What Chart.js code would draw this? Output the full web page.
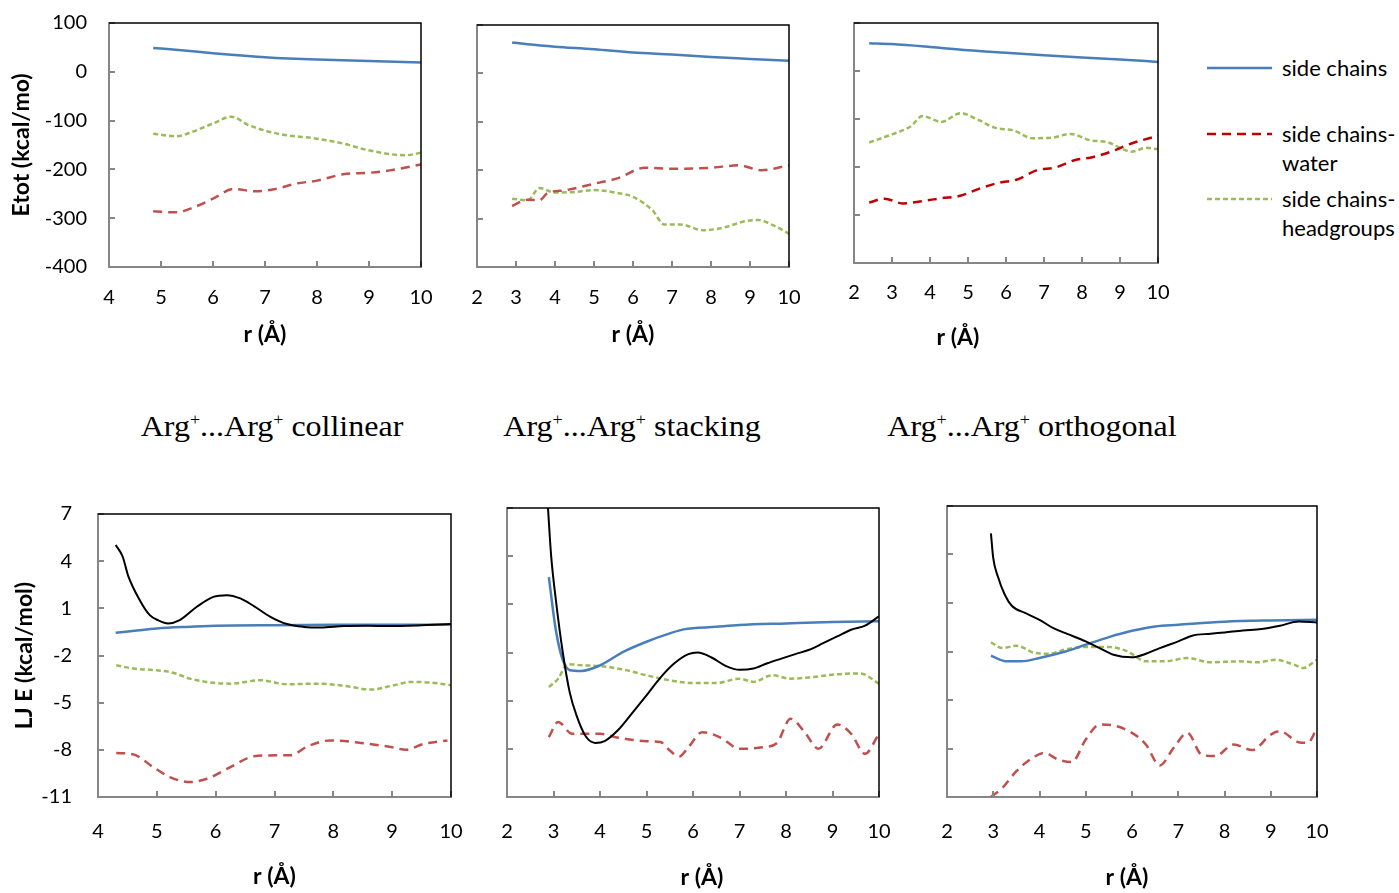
<!DOCTYPE html>
<html>
<head>
<meta charset="utf-8">
<script src="https://cdn.jsdelivr.net/npm/chart.js@4.4.1/dist/chart.umd.min.js"></script>
<style>
body { margin: 0; background: #fff; }
#page { position: relative; width: 1399px; height: 893px; overflow: hidden; background: #fff; }
canvas { position: absolute; }
.ttl { position: absolute; top: 406px; font-family: 'Liberation Serif', 'Times New Roman', serif; font-size: 32px; line-height: 40px; transform: translateX(-50%) scaleY(0.92); white-space: nowrap; color: #000; }
.ttl sup { font-size: 18px; line-height: 0; vertical-align: 12px; }
.leg { position: absolute; left: 1282px; font-family: Lato, 'Open Sans', sans-serif; font-size: 22px; line-height: 29px; color: #000; }
</style>
</head>
<body>
<div id="page">
  <div class="ttl" style="left:272px">Arg<sup>+</sup>...Arg<sup>+</sup> collinear</div>
  <div class="ttl" style="left:632px">Arg<sup>+</sup>...Arg<sup>+</sup> stacking</div>
  <div class="ttl" style="left:1032px">Arg<sup>+</sup>...Arg<sup>+</sup> orthogonal</div>

  <svg style="position:absolute;left:1200px;top:50px" width="80" height="170">
    <line x1="7" y1="18" x2="72" y2="18" stroke="#4A7EBB" stroke-width="2.5"/>
    <line x1="7" y1="84" x2="72" y2="84" stroke="#C00000" stroke-width="2.5" stroke-dasharray="9,6"/>
    <line x1="7" y1="149" x2="72" y2="149" stroke="#9BBB59" stroke-width="2.5" stroke-dasharray="5,3"/>
  </svg>
  <div class="leg" style="top:53px">side chains</div>
  <div class="leg" style="top:119px">side chains-<br>water</div>
  <div class="leg" style="top:184px">side chains-<br>headgroups</div>
</div>
<script>
// r (Å) / energy readings, one pair per curve

// Etot, collinear
const colScR  = [4.85, 5.5, 6, 7, 8, 9, 10];
const colScE  = [49, 43, 38, 30, 25, 22, 19];
const colScwR = [4.85, 5.3, 5.6, 6, 6.4, 6.8, 7.2, 7.6, 8, 8.5, 9, 9.4, 10];
const colScwE = [-286, -288, -279, -260, -240, -245, -240, -229, -223, -210, -207, -202, -190];
const colHgR  = [4.85, 5.3, 5.6, 6, 6.35, 6.7, 7.3, 8, 8.5, 9, 9.7, 10];
const colHgE  = [-127, -132, -123, -106, -92, -110, -128, -137, -147, -161, -171, -166];

// Etot, stacking
const stkScR  = [2.9, 3.3, 4, 5, 6, 7, 8, 9, 10];
const stkScE  = [64, 60, 55, 50, 43, 39, 34, 30, 26];
const stkScwR = [2.9, 3.3, 3.6, 3.8, 4.3, 5, 5.6, 6.3, 7, 8, 8.7, 9.3, 10];
const stkScwE = [-274, -261, -262, -248, -241, -228, -217, -195, -197, -195, -190, -200, -190];
const stkHgR  = [2.9, 3.3, 3.6, 4, 4.5, 5, 5.6, 6, 6.5, 6.8, 7.2, 7.8, 8.3, 8.9, 9.2, 9.6, 10];
const stkHgE  = [-259, -262, -237, -246, -245, -241, -247, -255, -283, -312, -312, -324, -319, -305, -303, -314, -331];

// Etot, orthogonal
const ortScR  = [2.4, 3, 4, 5, 6, 7, 8, 9, 10];
const ortScE  = [58, 56, 50, 43, 38, 33, 28, 24, 19];
const ortScwR = [2.4, 2.8, 3.3, 3.8, 4.3, 4.8, 5.3, 5.8, 6.3, 6.8, 7.3, 7.8, 8.3, 8.8, 9.3, 10];
const ortScwE = [-274, -266, -276, -271, -265, -260, -245, -233, -226, -207, -201, -186, -179, -167, -151, -135];
const ortHgR  = [2.4, 3, 3.5, 3.8, 4.3, 4.8, 5.3, 5.7, 6.2, 6.7, 7.2, 7.7, 8.2, 8.7, 9, 9.3, 9.7, 10];
const ortHgE  = [-149, -132, -115, -94, -106, -88, -103, -118, -124, -140, -139, -131, -144, -149, -160, -168, -160, -163];

// LJ E, collinear
const colTotR  = [4.3, 4.42, 4.51, 4.71, 4.88, 5.02, 5.19, 5.39, 5.68, 5.96, 6.19, 6.42, 6.65, 6.93, 7.21, 7.5, 7.78, 8.18, 8.58, 8.92, 9.43, 10];
const colTotE  = [5.03, 4.28, 3.1, 1.52, 0.57, 0.25, 0.04, 0.25, 1.1, 1.73, 1.84, 1.63, 1.14, 0.46, 0, -0.18, -0.22, -0.13, -0.11, -0.13, -0.09, 0];
const colLjScR = [4.3, 4.7, 5, 5.5, 6, 7, 8, 9, 10];
const colLjScE = [-0.56, -0.39, -0.28, -0.18, -0.11, -0.07, -0.05, -0.05, -0.03];
const colLjHgR = [4.31, 4.6, 5, 5.28, 5.56, 5.96, 6.25, 6.76, 7.21, 7.73, 8.24, 8.64, 9.03, 9.32, 9.66, 10];
const colLjHgE = [-2.62, -2.83, -2.94, -3.1, -3.47, -3.74, -3.79, -3.57, -3.83, -3.79, -3.96, -4.17, -3.89, -3.68, -3.72, -3.89];
const colLjWR  = [4.31, 4.6, 4.94, 5.22, 5.56, 5.85, 6.25, 6.65, 7.04, 7.27, 7.56, 7.95, 8.47, 8.98, 9.23, 9.55, 9.94];
const colLjWE  = [-8.2, -8.29, -9.1, -9.73, -10.05, -9.84, -9.1, -8.41, -8.35, -8.35, -7.78, -7.4, -7.56, -7.82, -7.99, -7.61, -7.4];

// LJ E, stacking
const stkTotR  = [2.86, 2.95, 3.05, 3.2, 3.35, 3.5, 3.7, 3.9, 4.1, 4.4, 4.7, 5, 5.3, 5.6, 5.9, 6.1, 6.4, 6.7, 7, 7.3, 7.6, 7.9, 8.2, 8.5, 8.8, 9.1, 9.4, 9.7, 10];
const stkTotE  = [8, 4, 1.3, -2, -4.5, -5.96, -7.25, -7.63, -7.52, -6.8, -5.75, -4.67, -3.56, -2.67, -2.1, -2, -2.31, -2.83, -3.08, -3, -2.67, -2.38, -2.1, -1.83, -1.42, -1, -0.58, -0.33, 0.25];
const stkLjScR = [2.9, 3.05, 3.2, 3.35, 3.6, 4, 4.5, 5, 5.5, 5.8, 6.5, 7, 8, 9, 10];
const stkLjScE = [2.69, -0.6, -2.48, -3.1, -3.15, -2.8, -1.96, -1.33, -0.81, -0.56, -0.4, -0.29, -0.19, -0.1, -0.06];
const stkLjHgR = [2.9, 3.1, 3.3, 3.6, 4, 4.5, 5, 5.5, 6, 6.5, 7, 7.3, 7.7, 8.1, 8.6, 9.1, 9.6, 10];
const stkLjHgE = [-4.15, -3.63, -2.73, -2.79, -2.85, -3.06, -3.42, -3.73, -3.9, -3.9, -3.63, -3.83, -3.42, -3.63, -3.52, -3.35, -3.31, -3.94];
const stkLjWR  = [2.9, 3.1, 3.4, 4, 4.4, 5, 5.3, 5.5, 5.7, 5.9, 6.2, 6.6, 7, 7.5, 7.8, 8.1, 8.4, 8.7, 9.1, 9.4, 9.7, 10];
const stkLjWE  = [-7.27, -6.33, -7.06, -7.06, -7.31, -7.52, -7.58, -8.1, -8.48, -7.9, -6.96, -7.31, -8, -7.9, -7.65, -6.13, -6.96, -8, -6.48, -7.06, -8.31, -7.06];

// LJ E, orthogonal
const ortTotR  = [2.95, 3, 3.1, 3.25, 3.4, 3.7, 4, 4.3, 4.6, 5, 5.3, 5.6, 6, 6.3, 6.6, 7, 7.3, 7.7, 8, 8.4, 8.8, 9.2, 9.6, 10];
const ortTotE  = [5.31, 3.77, 2.64, 1.51, 0.83, 0.37, -0.04, -0.56, -0.91, -1.37, -1.79, -2.2, -2.36, -2.14, -1.79, -1.37, -1.02, -0.9, -0.82, -0.7, -0.61, -0.41, -0.14, -0.2];
const ortLjScR = [2.95, 3.3, 3.6, 4, 4.5, 5, 5.5, 6, 6.5, 7, 8, 9, 10];
const ortLjScE = [-2.26, -2.61, -2.61, -2.4, -2.05, -1.58, -1.11, -0.72, -0.45, -0.35, -0.16, -0.08, -0.04];
const ortLjHgR = [2.95, 3.2, 3.5, 3.9, 4.2, 4.6, 5, 5.5, 5.9, 6.3, 6.7, 7.2, 7.7, 8.3, 8.7, 9.1, 9.5, 9.7, 10];
const ortLjHgE = [-1.44, -1.79, -1.64, -2.09, -2.14, -1.85, -1.72, -1.72, -1.99, -2.61, -2.61, -2.4, -2.67, -2.61, -2.67, -2.51, -2.81, -3.02, -2.51];
const ortLjWR  = [2.95, 3.2, 3.5, 3.8, 4.1, 4.4, 4.7, 5, 5.3, 5.6, 6, 6.3, 6.6, 6.9, 7.2, 7.5, 7.8, 8.2, 8.6, 9, 9.2, 9.6, 9.8, 10];
const ortLjWE  = [-11, -10.43, -9.4, -8.68, -8.27, -8.68, -8.84, -7.44, -6.52, -6.58, -7.03, -7.75, -9.05, -7.96, -7.03, -8.37, -8.47, -7.75, -8.1, -7.14, -6.93, -7.61, -7.65, -6.72];

const BLUE = '#4A7EBB', RED = '#C0504D', DARKRED = '#C00000', GREEN = '#9BBB59', AXIS = '#868686';
const tickFont = { family: 'Lato', size: 20 };
const titleFont = { family: 'Lato', size: 23, weight: 'bold' };

function pts(r, e) { return r.map((v, i) => ({ x: v, y: e[i] })); }

// curve styles
const total = (r, e) => ({ data: pts(r, e), borderColor: '#000', borderWidth: 2 });
const sc    = (r, e) => ({ data: pts(r, e), borderColor: BLUE, borderWidth: 2.5 });
const scw   = (r, e, c) => ({ data: pts(r, e), borderColor: c || RED, borderWidth: 2.5, borderDash: [9, 6] });
const schg  = (r, e) => ({ data: pts(r, e), borderColor: GREEN, borderWidth: 2.5, borderDash: [5, 3] });

// inner tick marks, black top/right frame, and the r (Å) title (not always centred in the original)
const frame = {
  id: 'frame',
  afterDatasetsDraw(chart, args, opts) {
    const { ctx, chartArea: a, scales: { x, y } } = chart;
    ctx.save();
    ctx.strokeStyle = AXIS;
    ctx.lineWidth = 2;
    ctx.beginPath();
    x.ticks.forEach(t => {
      const px = Math.round(x.getPixelForValue(t.value));
      ctx.moveTo(px, a.bottom); ctx.lineTo(px, a.bottom - 6);
    });
    y.ticks.forEach(t => {
      const py = Math.round(y.getPixelForValue(t.value));
      ctx.moveTo(a.left, py); ctx.lineTo(a.left + 6, py);
    });
    ctx.stroke();
    ctx.strokeStyle = '#000';
    ctx.lineWidth = 1.5;
    ctx.beginPath();
    ctx.moveTo(a.left, a.top); ctx.lineTo(a.right, a.top); ctx.lineTo(a.right, a.bottom);
    ctx.stroke();

    ctx.font = 'bold 23px Lato';
    ctx.fillStyle = '#000';
    ctx.textAlign = 'center';
    ctx.textBaseline = 'middle';
    ctx.fillText('r (Å)', (a.left + a.right) / 2 + opts.dx, a.bottom + opts.dy);
    ctx.restore();
  }
};

function panel(p, datasets) {
  // the scales add their tick padding to the edge room they ask for
  const pt = p.yTitle ? p.yPad + 12 : 12;
  const pr = p.xPad + 12;
  const yw = p.yTitle ? p.yw : p.xPad + 6;
  const w = (p.R - p.L) + yw + pr;
  const h = (p.B - p.T) + pt + p.xh;
  const cv = document.createElement('canvas');
  cv.width = w; cv.height = h;
  cv.style.left = (p.L - yw) + 'px';
  cv.style.top = (p.T - pt) + 'px';
  cv.style.width = w + 'px'; cv.style.height = h + 'px';
  document.getElementById('page').appendChild(cv);

  datasets.forEach(d => { d.pointRadius = 0; d.fill = false; d.cubicInterpolationMode = 'monotone'; });

  new Chart(cv, {
    type: 'line',
    data: { datasets: datasets },
    options: {
      responsive: false,
      animation: false,
      devicePixelRatio: 1,
      events: [],
      layout: { padding: { top: pt, right: pr, left: 0, bottom: 0 } },
      plugins: {
        legend: { display: false },
        tooltip: { enabled: false },
        frame: { dx: p.titleDx || 0, dy: p.titleDy }
      },
      scales: {
        x: {
          type: 'linear', min: p.xMin, max: 10,
          afterFit: s => { s.height = p.xh; },
          grid: { display: false, drawTicks: false },
          border: { color: AXIS, width: 2 },
          ticks: { stepSize: 1, color: '#000', font: tickFont, padding: p.xPad, maxRotation: 0, autoSkip: false }
        },
        y: {
          type: 'linear', min: p.yMin, max: p.yMax,
          afterFit: s => { s.width = yw; },
          grid: { display: false, drawTicks: false },
          border: { color: AXIS, width: 2 },
          ticks: { stepSize: p.yStep, display: !!p.yTitle, color: '#000', font: tickFont, padding: p.yPad || 0 },
          title: { display: !!p.yTitle, text: p.yTitle || '', color: '#000', font: titleFont, padding: { top: p.yTitlePad || 0, bottom: 0 } }
        }
      }
    },
    plugins: [frame]
  });
}

const etotAx = { yMin: -400, yMax: 100, yStep: 100 };
const ljAx = { yMin: -11, yMax: 7, yStep: 3 };

panel(Object.assign({ L: 109, T: 23, R: 421, B: 267, yw: 109, xh: 86, xMin: 4, xPad: 19, titleDy: 68,
  yTitle: 'Etot (kcal/mo)', yTitlePad: 8, yPad: 22 }, etotAx),
  [sc(colScR, colScE), scw(colScwR, colScwE), schg(colHgR, colHgE)]);

panel(Object.assign({ L: 477, T: 25, R: 789, B: 267, xh: 86, xMin: 2, xPad: 19, titleDy: 68 }, etotAx),
  [sc(stkScR, stkScE), scw(stkScwR, stkScwE), schg(stkHgR, stkHgE)]);

panel(Object.assign({ L: 854, T: 23, R: 1158, B: 263, xh: 92, xMin: 2, xPad: 18, titleDy: 75, titleDx: -48 }, etotAx),
  [sc(ortScR, ortScE), scw(ortScwR, ortScwE, DARKRED), schg(ortHgR, ortHgE)]);

panel(Object.assign({ L: 98, T: 514, R: 451, B: 797, yw: 98, xh: 96, xMin: 4, xPad: 23, titleDy: 80,
  yTitle: 'LJ E (kcal/mol)', yTitlePad: 11, yPad: 26 }, ljAx),
  [total(colTotR, colTotE), sc(colLjScR, colLjScE), scw(colLjWR, colLjWE), schg(colLjHgR, colLjHgE)]);

panel(Object.assign({ L: 507, T: 508, R: 879, B: 797, xh: 96, xMin: 2, xPad: 23, titleDy: 81, titleDx: 9 }, ljAx),
  [total(stkTotR, stkTotE), sc(stkLjScR, stkLjScE), scw(stkLjWR, stkLjWE), schg(stkLjHgR, stkLjHgE)]);

panel(Object.assign({ L: 947, T: 506, R: 1317, B: 797, xh: 96, xMin: 2, xPad: 23, titleDy: 81, titleDx: -5 }, ljAx),
  [total(ortTotR, ortTotE), sc(ortLjScR, ortLjScE), scw(ortLjWR, ortLjWE), schg(ortLjHgR, ortLjHgE)]);
</script>
</body>
</html>
